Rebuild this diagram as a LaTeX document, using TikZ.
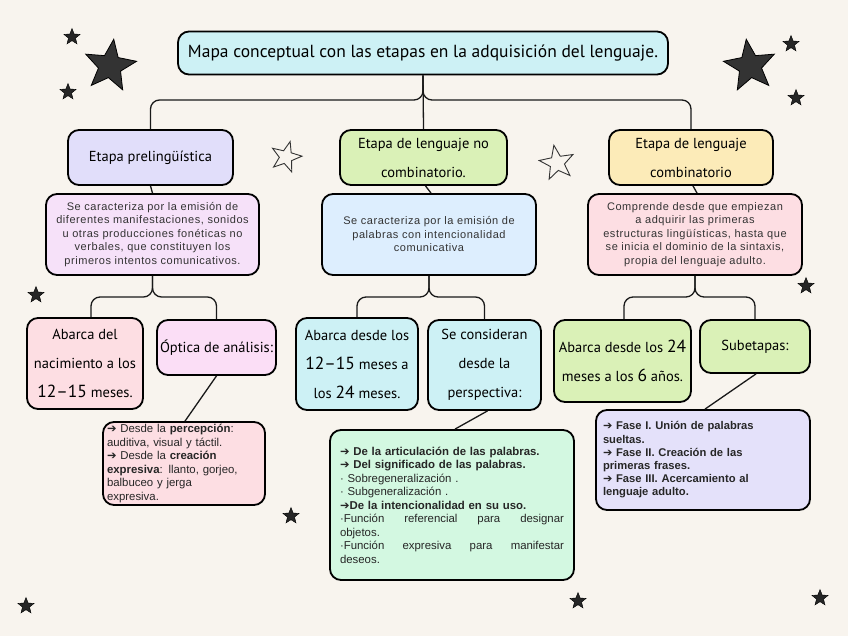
\documentclass[tikz,border=0pt]{standalone}
\usepackage{fontspec}
\setmainfont{Liberation Sans}
\newfontfamily\hand{PT Sans}
\newfontfamily\spaced[LetterSpace=5]{Liberation Sans}
\newfontfamily\djv{DejaVu Sans}
\usetikzlibrary{shapes.geometric}
\definecolor{bgc}{HTML}{F8F4EE}
\definecolor{ccyan}{HTML}{CDF1F5}
\definecolor{clav}{HTML}{E1DEFA}
\definecolor{cgreen}{HTML}{DAF1B7}
\definecolor{cyellow}{HTML}{FCEBB8}
\definecolor{cpp}{HTML}{F6E1F9}
\definecolor{clblue}{HTML}{DDEEFE}
\definecolor{cpink}{HTML}{FDDEE3}
\definecolor{corch}{HTML}{FBDEF6}
\definecolor{cmint}{HTML}{D3F8E1}
\definecolor{clav2}{HTML}{E4E1FA}
\newcommand{\arr}{{\djv\char"2794}}
\newcommand{\bignum}[1]{{\fontsize{17.5}{28}\selectfont #1}}
\begin{document}
\begin{tikzpicture}[x=1pt,y=-1pt,
  box/.style={draw=black,line width=1.8pt,rounded corners=11pt,inner sep=2pt,align=center},
  head/.style={box,font=\hand\fontsize{14.5}{29}\selectfont},
  desc/.style={box,font=\spaced\fontsize{11}{13.5}\selectfont,text=black!80},
  detail/.style={box,font=\fontsize{11.4}{13.5}\selectfont,text=black!85,align=left},
  link/.style={line width=1.3pt,draw=black!90},
  bigstar/.style={star,star points=5,star point ratio=2.3,fill=black!80,draw=black,line width=0.8pt,inner sep=0pt},
  smallstar/.style={star,star points=5,star point ratio=2.3,fill=black!85,draw=black,inner sep=0pt,minimum size=17pt},
  hollowstar/.style={star,star points=5,star point ratio=2.4,draw=black!80,line width=0.9pt,fill=none,inner sep=0pt}]
\useasboundingbox[fill=bgc] (0,0) rectangle (848,636);

% decorative stars
\node[bigstar,minimum size=54pt,rotate=-8] (bs1) at (110,66) {};
\node[bigstar,minimum size=54pt,rotate=8] (bs2) at (750,66) {};
\node[smallstar] (ss1) at (72,37) {};
\node[smallstar] (ss2) at (68,92) {};
\node[smallstar] (ss3) at (791,44) {};
\node[smallstar] (ss4) at (796,98) {};
\node[smallstar] (ss5) at (36,295) {};
\node[smallstar] (ss6) at (806,286) {};
\node[smallstar] (ss7) at (291,516) {};
\node[smallstar] (ss8) at (578,601) {};
\node[smallstar] (ss9) at (26,606) {};
\node[smallstar] (ss10) at (820,598) {};
\node[hollowstar,minimum size=32pt,rotate=-15] (hs1) at (286,157) {};
\node[hollowstar,minimum size=36pt,rotate=10] (hs2) at (557,163) {};

% title
\node[box,fill=ccyan,minimum width=490pt,minimum height=43pt,font=\hand\fontsize{17.5}{20}\selectfont] (title) at (423,53)
  {Mapa conceptual con las etapas en la adquisición del lenguaje.};

% stages
\node[head,fill=clav,minimum width=165pt,minimum height=55pt] (e1) at (150.5,157.5) {Etapa prelingüística};
\node[head,fill=cgreen,minimum width=167pt,minimum height=55pt] (e2) at (423.5,157.5) {Etapa de lenguaje no\\combinatorio.};
\node[head,fill=cyellow,minimum width=164pt,minimum height=55pt] (e3) at (691,157.5) {Etapa de lenguaje\\combinatorio};

% descriptions
\node[desc,fill=cpp,minimum width=213pt,minimum height=81pt] (d1) at (152.5,234.5)
  {Se caracteriza por la emisión de\\diferentes manifestaciones, sonidos\\u otras producciones fonéticas no\\verbales, que constituyen los\\primeros intentos comunicativos.};
\node[desc,fill=clblue,minimum width=214pt,minimum height=81pt] (d2) at (429,234.5)
  {Se caracteriza por la emisión de\\palabras con intencionalidad\\comunicativa};
\node[desc,fill=cpink,minimum width=214pt,minimum height=81pt] (d3) at (695,234.5)
  {Comprende desde que empiezan\\a adquirir las primeras\\estructuras lingüísticas, hasta que\\se inicia el dominio de la sintaxis,\\propia del lenguaje adulto.};

% sub nodes
\node[head,fill=cpink,minimum width=116pt,minimum height=91pt] (s1) at (85,363.5)
  {Abarca del\\nacimiento a los\\\bignum{12–15} meses.};
\node[head,fill=corch,minimum width=119pt,minimum height=55pt] (s2) at (216.5,347.5) {Óptica de análisis:};
\node[head,fill=ccyan,minimum width=122pt,minimum height=92pt] (s3) at (357,364)
  {Abarca desde los\\\bignum{12–15} meses a\\los \bignum{24} meses.};
\node[head,fill=ccyan,minimum width=113pt,minimum height=90pt] (s4) at (484.5,365)
  {Se consideran\\desde la\\perspectiva:};
\node[head,fill=cgreen,minimum width=137pt,minimum height=82pt] (s5) at (622.5,361)
  {Abarca desde los \bignum{24}\\meses a los \bignum{6} años.};
\node[head,fill=cgreen,minimum width=110pt,minimum height=53pt] (s6) at (755,346.5) {Subetapas:};

% details
\node[detail,fill=cpink,minimum width=162pt,minimum height=83pt,text width=154pt] (t1) at (184,463.5)
  {\arr{} Desde la \textbf{percepción}:\\auditiva, visual y táctil.\\\arr{} Desde la \textbf{creación}\\\textbf{expresiva}: llanto, gorjeo,\\balbuceo y jerga\\expresiva.};
\node[detail,fill=cmint,minimum width=244pt,minimum height=150pt,text width=224pt] (t2) at (452,505)
  {\textbf{\arr{} De la articulación de las palabras.}\\
   \textbf{\arr{} Del significado de las palabras.}\\
   · Sobregeneralización .\\
   · Subgeneralización .\\
   \textbf{\arr De la intencionalidad en su uso.}\\
   ·Función\hfill referencial\hfill para\hfill designar\\
   objetos.\\
   ·Función\hfill expresiva\hfill para\hfill manifestar\\
   deseos.};
\node[detail,fill=clav2,minimum width=214pt,minimum height=100pt,text width=200pt,font=\bfseries\fontsize{11.2}{13.2}\selectfont] (t3) at (703,460)
  {\arr{} Fase I. Unión de palabras\\sueltas.\\\arr{} Fase II. Creación de las\\primeras frases.\\\arr{} Fase III. Acercamiento al\\lenguaje adulto.};

% connectors
\draw[link,rounded corners=9pt] (title.south) -- (423,100) -| (e1.north);
\draw[link,rounded corners=9pt] (title.south) -- (423,100) -| (e3.north);
\draw[link] (title.south) -- (e2.north);
\draw[link] (e1.south) -- (d1.north);
\draw[link] ([xshift=2pt]e2.south) -- ([xshift=2pt]d2.north);
\draw[link] ([xshift=2pt]e3.south) -- ([xshift=2pt]d3.north);
\draw[link,rounded corners=9pt] (d1.south) -- (152.5,297) -| ([xshift=6pt]s1.north);
\draw[link,rounded corners=9pt] (d1.south) -- (152.5,297) -| (s2.north);
\draw[link,rounded corners=9pt] (d2.south) -- (429,297) -| (s3.north);
\draw[link,rounded corners=9pt] (d2.south) -- (429,297) -| (s4.north);
\draw[link,rounded corners=9pt] (d3.south) -- (695,297) -| ([xshift=1.5pt]s5.north);
\draw[link,rounded corners=9pt] (d3.south) -- (695,297) -| (s6.north);
\draw[link] (s2.south) -- ([xshift=1pt]t1.north);
\draw[link] ([xshift=3pt]s4.south) -- ([xshift=3pt]t2.north);
\draw[link] ([xshift=1pt]s6.south) -- ([xshift=2pt]t3.north);
\end{tikzpicture}
\end{document}
